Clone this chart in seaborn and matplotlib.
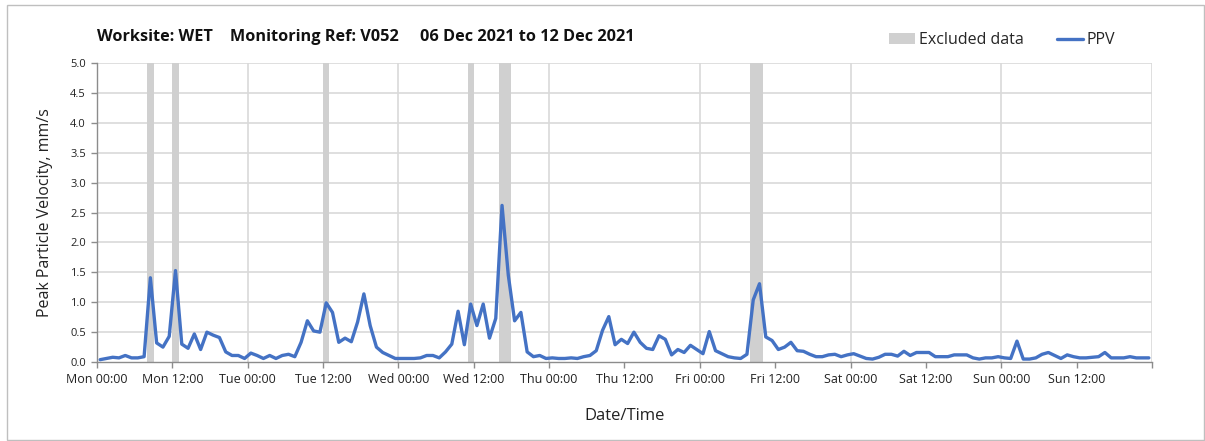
import numpy as np
import pandas as pd
import matplotlib
matplotlib.use("Agg")
import matplotlib.pyplot as plt
from matplotlib.patches import Patch, Rectangle
from matplotlib.lines import Line2D
import seaborn as sns

# Hourly peak particle velocity (mm/s), Mon 06 Dec 2021 00:00 -> Sun 12 Dec 2021 24:00
ppv = [
    0.04, 0.06, 0.08, 0.07, 0.11, 0.07, 0.07, 0.09, 1.41, 0.32,
    0.25, 0.43, 1.53, 0.30, 0.23, 0.47, 0.21, 0.50, 0.45, 0.41,
    0.17, 0.11, 0.11, 0.06, 0.15, 0.11, 0.06, 0.11, 0.06, 0.11,
    0.13, 0.09, 0.33, 0.69, 0.52, 0.50, 0.99, 0.83, 0.33, 0.40,
    0.34, 0.67, 1.14, 0.61, 0.25, 0.16, 0.11, 0.06, 0.06, 0.06,
    0.06, 0.07, 0.11, 0.11, 0.07, 0.17, 0.30, 0.85, 0.29, 0.97,
    0.61, 0.97, 0.40, 0.73, 2.62, 1.45, 0.69, 0.83, 0.17, 0.09,
    0.11, 0.06, 0.07, 0.06, 0.06, 0.07, 0.06, 0.09, 0.11, 0.19,
    0.53, 0.76, 0.29, 0.38, 0.31, 0.50, 0.33, 0.23, 0.21, 0.44,
    0.38, 0.12, 0.21, 0.16, 0.28, 0.21, 0.14, 0.51, 0.19, 0.14,
    0.09, 0.07, 0.06, 0.13, 1.04, 1.31, 0.42, 0.36, 0.21, 0.25,
    0.33, 0.19, 0.18, 0.13, 0.09, 0.09, 0.12, 0.13, 0.09, 0.12,
    0.14, 0.10, 0.06, 0.05, 0.08, 0.13, 0.13, 0.10, 0.18, 0.11,
    0.16, 0.16, 0.16, 0.09, 0.09, 0.09, 0.12, 0.12, 0.12, 0.07,
    0.05, 0.07, 0.07, 0.09, 0.07, 0.06, 0.35, 0.05, 0.05, 0.07,
    0.13, 0.16, 0.11, 0.06, 0.12, 0.09, 0.07, 0.07, 0.08, 0.09,
    0.16, 0.07, 0.07, 0.07, 0.09, 0.07, 0.07, 0.07,
]

# Excluded periods, hours from Mon 00:00
excluded_start = [8, 12, 36, 59, 64, 104]
excluded_end = [9, 13, 37, 60, 66, 106]

days = ["Mon", "Tue", "Wed", "Thu", "Fri", "Sat", "Sun"]
tick_labels = [f"{d} {h}" for d in days for h in ("00:00", "12:00")] + [""]

title = "Worksite: WET    Monitoring Ref: V052     06 Dec 2021 to 12 Dec 2021"

df = pd.DataFrame({"hour": np.arange(len(ppv)) + 0.5, "ppv": ppv})

sns.set_theme(style="white")
plt.rcParams["font.family"] = ["Open Sans", "DejaVu Sans"]

fig = plt.figure(figsize=(12.05, 4.41), dpi=100)
ax = fig.add_axes([0.0805, 0.179, 0.8755, 0.678])

grid_c = "#d9d9d9"
for y in np.arange(0.5, 5.01, 0.5):
    ax.axhline(y, color=grid_c, lw=1.2, zorder=0)
for x in range(24, 169, 24):
    ax.axvline(x, color=grid_c, lw=1.2, zorder=0)

for s, e in zip(excluded_start, excluded_end):
    ax.axvspan(s, e, color="#d0d0d0", lw=0, zorder=1)

sns.lineplot(data=df, x="hour", y="ppv", ax=ax, color="#4472c4", lw=2.4, zorder=3)

ax.set_xlim(0, 168)
ax.set_ylim(0, 5)
ax.set_xticks(np.arange(0, 169, 12))
ax.set_xticklabels(tick_labels, fontsize=9, color="#222222")
ax.set_yticks(np.arange(0, 5.01, 0.5))
ax.set_yticklabels([f"{v:.1f}" for v in np.arange(0, 5.01, 0.5)], fontsize=8, color="#222222")
ax.tick_params(axis="both", direction="out", length=4, width=1, color="#8c8c8c",
               bottom=True, left=True, pad=4)

for side in ("top", "right"):
    ax.spines[side].set_visible(False)
for side in ("left", "bottom"):
    ax.spines[side].set_color("#8c8c8c")
    ax.spines[side].set_linewidth(1)

ax.set_xlabel("Date/Time", fontsize=12, color="#222222", labelpad=16)
ax.set_ylabel("Peak Particle Velocity, mm/s", fontsize=11.5, color="#222222", labelpad=12)

fig.text(0.0805, 0.915, title, fontsize=11.7, fontweight="bold", color="#111111",
         va="center", ha="left")

handles = [Patch(facecolor="#d0d0d0", edgecolor="none"),
           Line2D([0], [0], color="#4472c4", lw=2.4)]
fig.legend(handles, ["Excluded data", "PPV"], loc="center left",
           bbox_to_anchor=(0.726, 0.909), ncol=2, frameon=False, fontsize=11.5,
           handlelength=1.6, handleheight=0.7, handletextpad=0.25, columnspacing=2.1)

fig.add_artist(Rectangle((0.006, 0.002), 0.993, 0.986, transform=fig.transFigure,
                         fill=False, edgecolor="#bfbfbf", lw=1))

fig.savefig("out.png", dpi=100)
